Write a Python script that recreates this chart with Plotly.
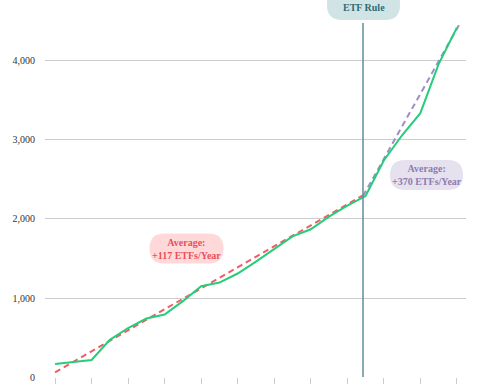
import plotly.graph_objects as go

# ---- data ----
years = list(range(2003, 2026))
etf_count = [165, 190, 215, 470, 620, 740, 790, 960, 1150, 1195, 1310, 1460,
             1620, 1780, 1870, 2030, 2170, 2290, 2740, 3060, 3340, 3960, 4420]

pre_trend_x = [2003.0, 2019.86]
pre_trend_y = [60, 2300]
post_trend_x = [2019.86, 2025.2]
post_trend_y = [2290, 4490]

rule_year = 2019.86
rule_top = 4480
tick_years = list(range(2003, 2026, 2))
y_ticks = [0, 1000, 2000, 3000, 4000]
y_tick_text = ["0", "1,000", "2,000", "3,000", "4,000"]

label_pre = "Average:<br>+117 ETFs/Year"
label_post = "Average:<br>+370 ETFs/Year"
label_rule = "ETF Rule"

# ---- layout geometry ----
W, H = 480, 384
ML, MR, MT, MB = 45, 14, 0, 7
XR = [2002.45, 2025.5]
YR = [0, 4772]
pw = W - ML - MR
ph = H - MT - MB
sx = (XR[1] - XR[0]) / pw   # data per px
sy = (YR[1] - YR[0]) / ph

def px_to_data(px, py):
    return XR[0] + (px - ML) * sx, YR[0] + (H - MB - py) * sy

def rounded_box(cx_px, cy_px, w_px, h_px, r_px):
    x0, y1 = px_to_data(cx_px - w_px / 2, cy_px - h_px / 2)
    x1, y0 = px_to_data(cx_px + w_px / 2, cy_px + h_px / 2)
    rx = r_px * sx
    ry = r_px * sy
    return (f"M {x0+rx},{y0} L {x1-rx},{y0} Q {x1},{y0} {x1},{y0+ry} "
            f"L {x1},{y1-ry} Q {x1},{y1} {x1-rx},{y1} L {x0+rx},{y1} "
            f"Q {x0},{y1} {x0},{y1-ry} L {x0},{y0+ry} Q {x0},{y0} {x0+rx},{y0} Z")

FONT = "Liberation Serif"

fig = go.Figure()
fig.add_trace(go.Scatter(x=pre_trend_x, y=pre_trend_y, mode="lines",
                         line=dict(color="#f25c66", width=2, dash="6px,4px"),
                         hoverinfo="skip", showlegend=False))
fig.add_trace(go.Scatter(x=post_trend_x, y=post_trend_y, mode="lines",
                         line=dict(color="#9d8fc4", width=2, dash="6px,4px"),
                         hoverinfo="skip", showlegend=False))
fig.add_trace(go.Scatter(x=years, y=etf_count, mode="lines",
                         line=dict(color="#25cd7a", width=2),
                         showlegend=False))

shapes = [
    dict(type="line", xref="x", yref="y", x0=rule_year, x1=rule_year,
         y0=0, y1=rule_top, line=dict(color="#5e8f98", width=1.5), layer="above"),
    dict(type="path", xref="x", yref="y", path=rounded_box(363.5, 4, 73, 32, 15),
         fillcolor="#d0e4e5", line=dict(width=0), layer="above"),
    dict(type="path", xref="x", yref="y", path=rounded_box(186.5, 248.5, 74, 30, 15),
         fillcolor="#ffd9da", line=dict(width=0), layer="above"),
    dict(type="path", xref="x", yref="y", path=rounded_box(426.5, 175, 73, 30, 15),
         fillcolor="#e6e1ef", line=dict(width=0), layer="above"),
]

annotations = []
for (cx, cy, text, col) in [(363.5, 7, label_rule, "#2f6b72"),
                            (186.5, 248.5, label_pre, "#e8505b"),
                            (426.5, 175, label_post, "#8c7db0")]:
    dx, dy = px_to_data(cx, cy)
    annotations.append(dict(x=dx, y=dy, xref="x", yref="y", text=f"<b>{text}</b>",
                            showarrow=False, font=dict(family=FONT, size=10, color=col),
                            align="center"))

fig.update_layout(
    width=W, height=H,
    margin=dict(l=ML, r=MR, t=MT, b=MB),
    paper_bgcolor="white", plot_bgcolor="white",
    shapes=shapes, annotations=annotations,
    font=dict(family=FONT, size=10, color="#333333"),
    xaxis=dict(range=XR, tickmode="array", tickvals=tick_years, showticklabels=False,
               ticks="outside", ticklen=6, tickcolor="#cccccc", tickwidth=1,
               showgrid=False, showline=False, zeroline=False, fixedrange=True),
    yaxis=dict(range=YR, tickmode="array", tickvals=y_ticks, ticktext=y_tick_text,
               showgrid=True, gridcolor="#cccccc", gridwidth=1, zeroline=False,
               showline=False, ticks="", ticklabelstandoff=9, fixedrange=True),
)

fig.write_html("out.html")
